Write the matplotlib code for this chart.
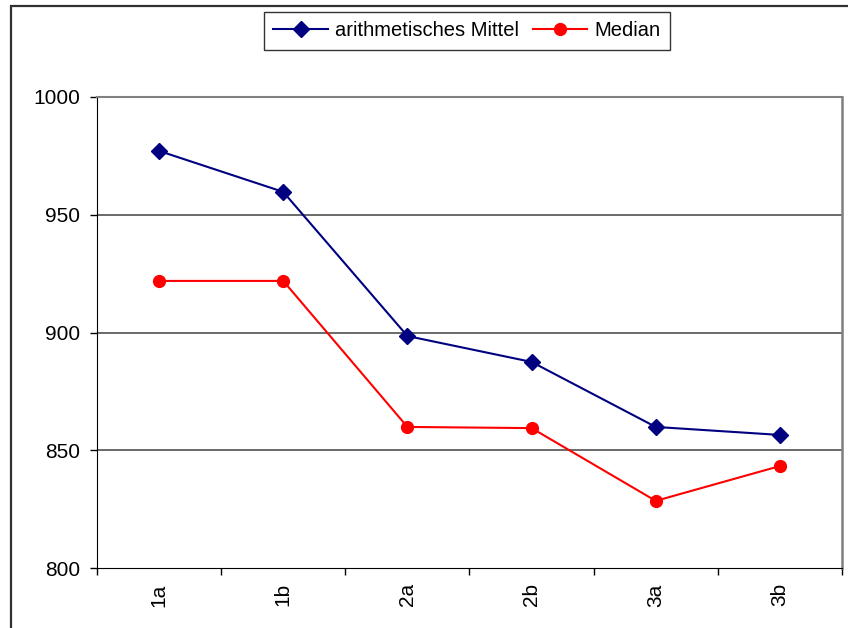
import matplotlib
matplotlib.use("Agg")
import matplotlib.pyplot as plt
from matplotlib.patches import Rectangle

categories = ["1a", "1b", "2a", "2b", "3a", "3b"]
mittel = [977.1, 959.7, 898.5, 887.5, 859.9, 856.5]
median = [921.9, 921.9, 859.9, 859.4, 828.5, 843.3]
yticks = [800, 850, 900, 950, 1000]

plt.rcParams['font.family'] = ['Liberation Sans', 'DejaVu Sans']

W, H = 848, 628
fig = plt.figure(figsize=(W / 100, H / 100), dpi=100)

# outer chart frame
fig.patches.append(Rectangle((11 / W, -0.05), 1.2, (H - 6) / H + 0.05,
                             transform=fig.transFigure, fill=False,
                             edgecolor='#303030', linewidth=1.6))

ax = fig.add_axes([97 / W, 1 - 568 / H, (842 - 97) / W, (568 - 97) / H])
x = list(range(len(categories)))

ax.plot(x, mittel, color='#000080', lw=1.5, marker='D', markersize=8,
        label='arithmetisches Mittel', zorder=3)
ax.plot(x, median, color='#FF0000', lw=1.5, marker='o', markersize=8.5,
        label='Median', zorder=3)

ax.set_xlim(-0.5, len(categories) - 0.5)
ax.set_ylim(800, 1000)
ax.set_yticks(yticks)
ax.set_yticklabels([str(v) for v in yticks], fontsize=15)
ax.set_xticks(x)
ax.set_xticklabels(categories, rotation=90, fontsize=15)
ax.set_xticks([i - 0.5 for i in range(len(categories) + 1)], minor=True)
ax.tick_params(axis='x', which='major', length=0, pad=11)
ax.tick_params(axis='x', which='minor', length=5, direction='out', width=1)
ax.tick_params(axis='y', length=5, direction='out', width=1, pad=7)

for v in yticks[1:-1]:
    ax.axhline(v, color='#505050', lw=1.2, zorder=1)

ax.spines['top'].set_color('#808080')
ax.spines['top'].set_linewidth(1.5)
ax.spines['right'].set_color('#808080')
ax.spines['right'].set_linewidth(1.8)
ax.spines['left'].set_color('black')
ax.spines['bottom'].set_color('black')

leg = fig.legend(loc='center', bbox_to_anchor=(467 / W, 1 - 31 / H), ncol=2,
                 fontsize=14.5, frameon=True, fancybox=False, edgecolor='black',
                 handlelength=2.7, columnspacing=0.7, handletextpad=0.35,
                 borderpad=0.45, borderaxespad=0)
leg.get_frame().set_linewidth(1.0)

fig.savefig("out.png", dpi=100)
